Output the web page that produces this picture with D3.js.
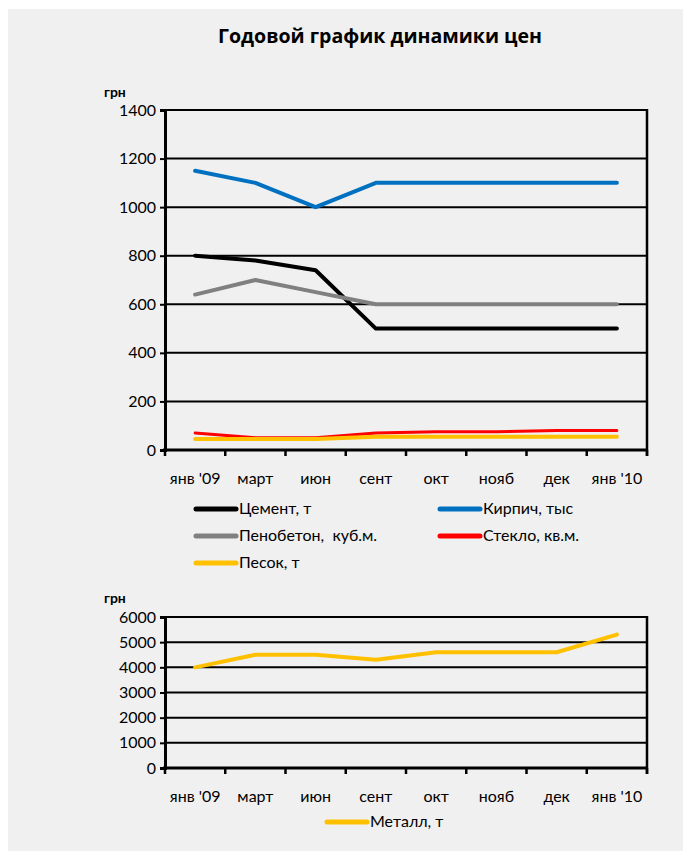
<!DOCTYPE html>
<html><head><meta charset="utf-8">
<script src="https://cdn.jsdelivr.net/npm/d3@7"></script>
<style>
html,body{margin:0;padding:0;background:#fff;}
svg{display:block;}
text{font-family:Lato, "Open Sans", sans-serif;fill:#000;}
</style></head>
<body>
<svg id="c" width="683" height="851"></svg>
<script>
const categories = ["янв '09","март","июн","сент","окт","нояб","дек","янв '10"];
const cement   = [800, 780, 740, 500, 500, 500, 500, 500];
const brick    = [1150, 1100, 1000, 1100, 1100, 1100, 1100, 1100];
const foam     = [640, 700, 650, 600, 600, 600, 600, 600];
const glass    = [70, 50, 50, 70, 75, 75, 80, 80];
const sand     = [45, 45, 45, 55, 55, 55, 55, 55];
const metal    = [4000, 4500, 4500, 4300, 4600, 4600, 4600, 5300];
const ticksTop = [0, 200, 400, 600, 800, 1000, 1200, 1400];
const ticksBottom = [0, 1000, 2000, 3000, 4000, 5000, 6000];
const titleText = "Годовой график динамики цен";
const unitText = "грн";

const topSeries = [
  {name:"Цемент, т", values:cement, color:"#000000", w:4},
  {name:"Кирпич, тыс", values:brick, color:"#0070c0", w:4},
  {name:"Пенобетон,  куб.м.", values:foam, color:"#808080", w:4},
  {name:"Стекло, кв.м.", values:glass, color:"#ff0000", w:3},
  {name:"Песок, т", values:sand, color:"#ffc000", w:4}
];
const bottomSeries = [{name:"Металл, т", values:metal, color:"#ffc000", w:4}];

const svg = d3.select("#c");
svg.append("rect").attr("x",8).attr("y",9).attr("width",675).attr("height",842).attr("fill","#f0f0f0");

svg.append("text").attr("x",380).attr("y",43).attr("text-anchor","middle")
  .style("font-size","20px").style("font-weight","bold").style("font-family","'Open Sans', sans-serif")
  .attr("textLength",324).attr("lengthAdjust","spacingAndGlyphs").text(titleText);

const x = d3.scaleBand().domain(categories).range([165,647]);

function drawChart(cfg){
  const y = d3.scaleLinear().domain([cfg.ticks[0], cfg.ticks[cfg.ticks.length-1]]).range([cfg.y0, cfg.y1]);
  const g = svg.append("g");
  g.selectAll("line.grid").data(cfg.ticks.slice(1)).join("line")
    .attr("x1",165).attr("x2",647).attr("y1",d=>y(d)).attr("y2",d=>y(d))
    .attr("stroke","#000").attr("stroke-width",2);
  g.append("line").attr("x1",647).attr("x2",647).attr("y1",y(cfg.ticks[cfg.ticks.length-1])-1).attr("y2",cfg.y0+6)
    .attr("stroke","#000").attr("stroke-width",2.5);
  const ya = g.append("g").attr("transform","translate(165,0)")
    .call(d3.axisLeft(y).tickValues(cfg.ticks).tickSize(5).tickPadding(4).tickFormat(d3.format("d")));
  ya.select(".domain").attr("stroke-width",3);
  ya.selectAll(".tick line").attr("stroke-width",2);
  ya.selectAll("text").style("font-size","16px").style("font-family","Lato, sans-serif");
  const xa = g.append("g").attr("transform",`translate(0,${cfg.y0})`)
    .call(d3.axisBottom(x).tickSize(0).tickPadding(23));
  xa.select(".domain").attr("stroke-width",3).attr("d",`M163,0H648`);
  xa.selectAll("text").style("font-size","16px").style("font-family","Lato, sans-serif");
  const bounds = categories.map(c=>x(c)).concat([647]);
  g.selectAll("line.xt").data(bounds).join("line")
    .attr("x1",d=>d).attr("x2",d=>d).attr("y1",cfg.y0).attr("y2",cfg.y0+6)
    .attr("stroke","#000").attr("stroke-width",2.5);
  const line = d3.line().x((d,i)=>x(categories[i])+x.bandwidth()/2).y(d=>y(d));
  cfg.series.forEach(s=>{
    g.append("path").attr("d",line(s.values)).attr("fill","none")
      .attr("stroke",s.color).attr("stroke-width",s.w).attr("stroke-linecap","round").attr("stroke-linejoin","round");
  });
  svg.append("text").attr("x",cfg.unitX).attr("y",cfg.unitY).style("font-size","14px").style("font-weight","bold")
    .text(unitText);
  cfg.series.forEach((s,i)=>{
    const p = cfg.legendPos[i];
    svg.append("line").attr("x1",p[0]).attr("x2",p[0]+40).attr("y1",p[1]).attr("y2",p[1])
      .attr("stroke",s.color).attr("stroke-width",5).attr("stroke-linecap","round");
    svg.append("text").attr("x",p[0]+43).attr("y",p[1]+5).style("font-size","16px").style("white-space","pre").text(s.name);
  });
}

drawChart({ticks:ticksTop, y0:450, y1:110, series:topSeries, unitX:104, unitY:97,
  legendPos:[[196,509],[440,509],[196,536],[440,536],[196,563]]});
drawChart({ticks:ticksBottom, y0:768, y1:617, series:bottomSeries, unitX:104, unitY:603,
  legendPos:[[327,822]]});
</script>
</body></html>
